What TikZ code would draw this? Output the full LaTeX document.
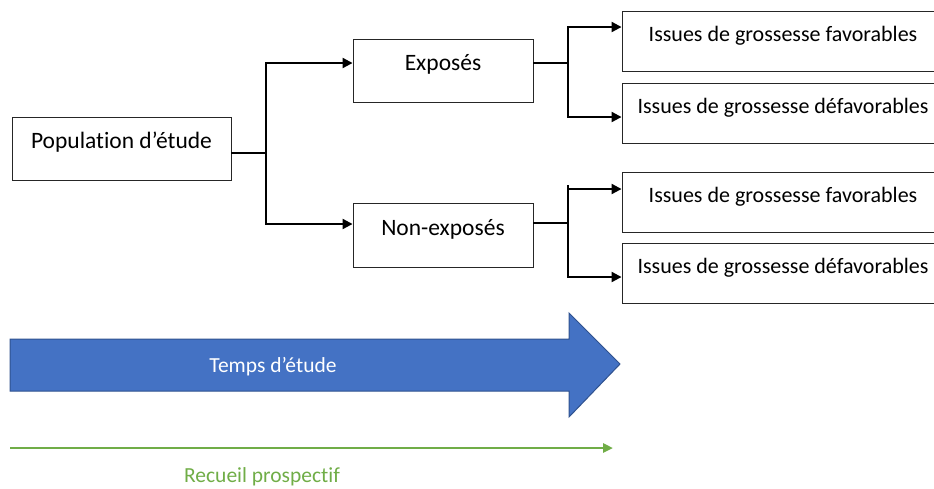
\documentclass[tikz,border=0pt]{standalone}
\usepackage{fontspec}
\setmainfont{Carlito}[Ligatures={NoCommon,NoDiscretionary,NoContextual}]
\usetikzlibrary{arrows.meta}
\definecolor{blueFill}{HTML}{4472C4}
\definecolor{blueLine}{HTML}{2F528F}
\definecolor{greenLine}{HTML}{70AD47}
\begin{document}
\begin{tikzpicture}[x=1pt,y=-1pt,
  box/.style={draw=black!85, line width=0.9pt, fill=white, inner sep=0pt,
    text height=8pt, text depth=8pt, align=center},
  bigtxt/.style={font=\fontsize{23.5}{28}\selectfont},
  outtxt/.style={font=\fontsize{22}{26}\selectfont},
  outbox/.style={box, outtxt, minimum width=322pt, minimum height=60pt},
  link/.style={draw=black, line width=2.1pt},
  linkarr/.style={link, -{Triangle[length=10pt,width=10pt]}},
  timetxt/.style={font=\fontsize{21.5}{26}\selectfont, anchor=base}
]
\useasboundingbox (0,0) rectangle (934,488);
\clip (0,0) rectangle (934,488);

% boxes
\node[box, bigtxt, minimum width=219pt, minimum height=63pt] (pop) at (121.5,148.5) {Population d’étude};
\node[box, bigtxt, minimum width=180pt, minimum height=63pt] (expo) at (443,70.5) {Exposés};
\node[box, bigtxt, minimum width=180pt, minimum height=64pt] (nonexpo) at (443,235) {Non-exposés};
\node[outbox] (i1) at (783,41) {Issues de grossesse favorables};
\node[outbox] (i2) at (783,113) {Issues de grossesse défavorables};
\node[outbox] (i3) at (783,202) {Issues de grossesse favorables};
\node[outbox] (i4) at (783,273.5) {Issues de grossesse défavorables};

% connectors
\coordinate (j1) at (266,153);
\coordinate (j2) at (568,63);
\coordinate (j3) at (568,223);
\draw[link] ([yshift=-4.5pt]pop.east) -- (j1);
\draw[linkarr] (j1) |- ([yshift=7.5pt]expo.west);
\draw[linkarr] (j1) |- ([yshift=11pt]nonexpo.west);
\draw[link] ([yshift=7.5pt]expo.east) -- (j2);
\draw[linkarr] (j2) |- ([yshift=14pt]i1.west);
\draw[linkarr] (j2) |- ([yshift=-4pt]i2.west);
\draw[link] ([yshift=12pt]nonexpo.east) -- (j3);
\draw[link] (j3) -- ++(0,-38);
\draw[linkarr] (j3) |- ([yshift=13pt]i3.west);
\draw[linkarr] (j3) |- ([yshift=-3.5pt]i4.west);

% time arrow
\draw[draw=blueLine, line width=1pt, fill=blueFill, line join=miter]
  (10,339) -- (569,339) -- (569,313) -- (620,364) -- (569,417) -- (569,391) -- (10,391) -- cycle;
\node[timetxt, text=white] (temps) at (273,372) {Temps d’étude};

% prospective collection
\coordinate (g0) at (10,448);
\coordinate (g1) at (613,448);
\draw[draw=greenLine, line width=2.6pt, -{Triangle[length=10pt,width=9pt]}] (g0) -- (g1);
\node[timetxt, text=greenLine] (recueil) at (262,482) {Recueil prospectif};
\end{tikzpicture}
\end{document}
